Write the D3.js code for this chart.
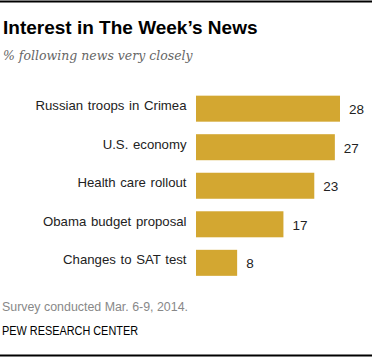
<!DOCTYPE html>
<html><head><meta charset="utf-8">
<script src="https://cdn.jsdelivr.net/npm/d3@7"></script>
<style>body{margin:0;background:#fff}svg{display:block}</style>
</head><body>
<svg id="c" width="372" height="358"></svg>
<script>
const categories = ["Russian troops in Crimea","U.S. economy","Health care rollout","Obama budget proposal","Changes to SAT test"];
const values = [28,27,23,17,8];
const title = "Interest in The Week\u2019s News";
const subtitle = "% following news very closely";
const note = "Survey conducted Mar. 6-9, 2014.";
const source = "PEW RESEARCH CENTER";

const svg = d3.select("#c");
const W = 372, H = 358;
svg.append("rect").attr("width",W).attr("height",H).attr("fill","#fff");
svg.append("line").attr("x1",0).attr("x2",W).attr("y1",1.5).attr("y2",1.5).attr("stroke","#000").attr("stroke-width",2);
svg.append("line").attr("x1",0).attr("x2",W).attr("y1",355.5).attr("y2",355.5).attr("stroke","#000").attr("stroke-width",2);

svg.append("text").attr("x",3).attr("y",34).text(title)
  .attr("font-family","Liberation Sans, Arial, sans-serif").attr("font-weight","bold").attr("font-size",19).attr("fill","#000");
svg.append("text").attr("x",3).attr("y",60).text(subtitle)
  .attr("font-family","DejaVu Serif, serif").attr("font-style","italic").attr("font-size",12.5).attr("fill","#666");

const x = d3.scaleLinear().domain([0,28]).range([196,340]);
const y = d3.scaleBand().domain(categories).range([89.5,282]).paddingInner(0.325).paddingOuter(0.16);

const g = svg.append("g");
g.selectAll("rect.bar").data(values).join("rect").attr("class","bar")
  .attr("x",x(0)).attr("y",(d,i)=>y(categories[i]))
  .attr("width",d=>x(d)-x(0)).attr("height",y.bandwidth()).attr("fill","#D3A731");

const yAxis = d3.axisLeft(y).tickSize(0).tickPadding(9.5);
const ax = svg.append("g").attr("transform",`translate(${x(0)},0)`).call(yAxis);
ax.select(".domain").remove();
ax.selectAll("text").attr("font-family","Liberation Sans, Arial, sans-serif").attr("font-size",13.2).attr("fill","#222").attr("dy","0.1em").attr("word-spacing","1px");

g.selectAll("text.val").data(values).join("text").attr("class","val")
  .attr("x",d=>x(d)+9).attr("y",(d,i)=>y(categories[i])+y.bandwidth()/2+5.5)
  .text(d=>d).attr("font-family","Liberation Sans, Arial, sans-serif").attr("font-size",13.5).attr("fill","#222");

svg.append("text").attr("x",2).attr("y",311).text(note)
  .attr("font-family","Liberation Sans, Arial, sans-serif").attr("font-size",12.5).attr("fill","#888")
  .attr("textLength",186).attr("lengthAdjust","spacingAndGlyphs");
svg.append("text").attr("x",2).attr("y",335).text(source)
  .attr("font-family","Liberation Sans, Arial, sans-serif").attr("font-size",12).attr("fill","#000")
  .attr("textLength",136).attr("lengthAdjust","spacingAndGlyphs");
</script>
</body></html>
